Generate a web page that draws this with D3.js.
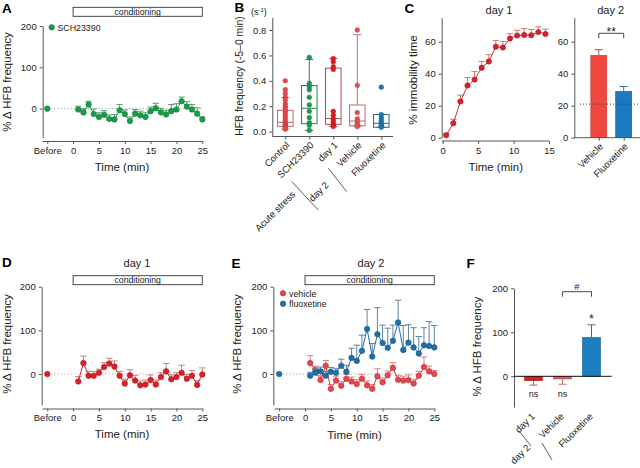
<!DOCTYPE html>
<html><head><meta charset="utf-8">
<script src="https://cdn.jsdelivr.net/npm/d3@7"></script>
<style>
body{margin:0;background:#fff;}
svg{display:block;font-family:"Liberation Sans",Arial,sans-serif;}
</style></head><body>
<svg id="chart" width="640" height="468"></svg>
<script>
// ---------------- DATA ----------------
const minutes = d3.range(1, 26);
const beforeTime = -5;
const beforeValue = 0;
const timeTicks = [-5, 0, 5, 10, 15, 20, 25];
const hfbTicks = [0, 100, 200];

// Panel A: SCH23390
const aSCH = [-2,-9,10,-13,-20,-15,-25,-26,-4,-13,-30,-12,-16,-20,-6,1,-9,-14,-6,-2,18,5,-2,-12,-26];
const aSCHErr = [8,9,8,12,10,10,10,12,14,10,10,10,10,10,10,12,10,10,16,14,10,12,12,14,6];

// Panel D: day 1
const dDay1 = [-17,25,-4,-4,3,16,24,17,-4,-22,-3,-15,-26,-24,-14,-24,-7,6,-12,-7,3,-11,-4,-25,-1];
const dDay1Err = [11,16,10,10,8,10,12,13,10,10,13,12,10,10,12,10,10,18,10,10,17,10,12,10,15];

// Panel E: day 2
const eVehicle = [25,9,-14,19,-34,-15,-27,-11,-17,-23,-11,-26,-34,-5,-19,-3,14,-13,-15,-14,-22,-4,16,6,0];
const eVehicleErr = [17,9,10,12,10,10,10,10,10,10,10,10,10,17,10,10,12,10,10,12,10,10,23,12,8];
const eFluox = [-4,3,6,-4,5,3,19,5,37,30,53,103,40,91,71,60,76,118,55,72,61,47,66,64,61];
const eFluoxErr = [8,10,10,10,10,10,15,15,22,36,36,45,30,61,41,45,36,51,56,41,45,39,40,56,50];

// Panel B: HFB frequency box plots
const bCategories = ["Control","SCH23390","day 1","Vehicle","Fluoxetine"];
const bControl = [0.40,0.33,0.30,0.27,0.25,0.22,0.20,0.18,0.16,0.14,0.12,0.10,0.08,0.07,0.06,0.05,0.04,0.03,0.02];
const bSCH = [0.585,0.38,0.355,0.33,0.27,0.21,0.16,0.11,0.07,0.05,0.01];
const bDay1 = [0.575,0.55,0.51,0.49,0.16,0.13,0.10,0.08,0.06,0.05,0.04];
const bVehicle = [0.80,0.365,0.15,0.10,0.08,0.06,0.05,0.04];
const bFluox = [0.35,0.135,0.11,0.09,0.07,0.055,0.045,0.035];
const bQ1 = [0.042,0.063,0.058,0.047,0.035];
const bMedian = [0.074,0.184,0.103,0.084,0.066];
const bQ3 = [0.168,0.363,0.50,0.21,0.135];
const bWhiskLo = [0.02,0.01,0.04,0.04,0.035];
const bWhiskHi = [0.268,0.568,0.575,0.763,0.135];
const bTicks = [0,0.2,0.4,0.6,0.8];

// Panel C
const cTime = [0.5,1.5,2.5,3.5,4.5,5.5,6.5,7.5,8.5,9.5,10.5,11.5,12.5,13.5,14.5];
const cImmob = [1.6,9,22.6,32.6,36.3,43.7,47.6,56.8,56.4,62,63.8,64.2,64,66,64.8];
const cImmobErr = [1,2.5,4,5,5,4,4.3,4,3.7,3,3.3,4,3.7,3.3,3];
const cTimeTicks = [0,5,10,15];
const cYTicks = [0,20,40,60];
const cBarGroups = ["Vehicle","Fluoxetine"];
const cBarValues = [51.5,29];
const cBarErr = [3.5,3];
const cReference = 21;

// Panel F
const fGroups = ["day 1","Vehicle","Fluoxetine"];
const fValues = [-10,-6,88];
const fErr = [10,12,29];

// ---------------- HELPERS ----------------
const svg = d3.select('#chart');
const AXC = '#555';

function styleAxis(a, fs) {
  a.attr('font-family', null).attr('font-size', null);
  a.select('.domain').attr('stroke', AXC).attr('stroke-width', 1);
  a.selectAll('.tick line').attr('stroke', AXC);
  a.selectAll('.tick text').attr('fill', '#222').attr('font-size', fs || 9.5);
  return a;
}
function addYAxis(x0, y, ticks, fmt) {
  return styleAxis(svg.append('g').attr('transform', `translate(${x0},0)`)
    .call(d3.axisLeft(y).tickValues(ticks).tickSize(3).tickSizeOuter(0).tickPadding(3).tickFormat(fmt || d3.format('d'))));
}
function addXAxis(y0, x, ticks, fmt) {
  return styleAxis(svg.append('g').attr('transform', `translate(0,${y0})`)
    .call(d3.axisBottom(x).tickValues(ticks).tickSize(3).tickSizeOuter(0).tickPadding(3).tickFormat(fmt || d3.format('d'))));
}
function txt(x, y, s, o) {
  o = o || {};
  const t = svg.append('text').attr('x', 0).attr('y', 0)
    .attr('transform', `translate(${x},${y})` + (o.rot ? ` rotate(${o.rot})` : ''))
    .attr('text-anchor', o.anchor || 'start')
    .attr('font-size', o.size || 9.5)
    .attr('font-weight', o.bold ? 'bold' : null)
    .attr('fill', o.fill || '#222')
    .text(s);
  return t;
}
function letter(x, y, s) { txt(x, y, s, {size: 13.5, bold: true, fill: '#000'}); }
function yLabel(x, y, s, size) { txt(x, y, s, {rot: -90, anchor: 'middle', size: size || 11.5}); }
function line(x1, y1, x2, y2, col, w, dash) {
  svg.append('line').attr('x1', x1).attr('y1', y1).attr('x2', x2).attr('y2', y2)
    .attr('stroke', col).attr('stroke-width', w || 1).attr('stroke-dasharray', dash || null);
}
function condBar(x, yTop) {
  svg.append('rect').attr('x', x(0)).attr('y', yTop).attr('width', x(25) - x(0)).attr('height', 9)
    .attr('fill', '#fff').attr('stroke', '#333').attr('stroke-width', 0.9);
  txt((x(0) + x(25)) / 2, yTop + 7.3, 'conditioning', {anchor: 'middle', size: 8.7});
}
function drawSeries(x, y, xs, vals, errs, c) {
  const g = svg.append('g');
  g.append('g').attr('stroke', c.err).attr('stroke-width', 1).attr('fill', 'none')
    .selectAll('path').data(vals).join('path')
    .attr('d', (v, i) => {
      const px = x(xs[i]), p0 = y(v), p1 = y(v + errs[i]);
      return `M${px},${p0}V${p1}M${px - 3.2},${p1}H${px + 3.2}`;
    });
  g.append('path').datum(vals).attr('fill', 'none').attr('stroke', c.line).attr('stroke-width', 1)
    .attr('d', d3.line().x((v, i) => x(xs[i])).y(v => y(v)));
  g.append('g').selectAll('circle').data(vals).join('circle')
    .attr('cx', (v, i) => x(xs[i])).attr('cy', v => y(v)).attr('r', c.r || 2.8)
    .attr('fill', c.dot).attr('stroke', c.stroke).attr('stroke-width', 0.5);
}
function beforeDot(x, y, col, stroke) {
  svg.append('circle').attr('cx', x(beforeTime)).attr('cy', y(beforeValue)).attr('r', 2.8)
    .attr('fill', col).attr('stroke', stroke).attr('stroke-width', 0.5);
}
const timeFmt = d => d === -5 ? 'Before' : d;

// ---------------- PANEL A ----------------
{
  const x = d3.scaleLinear().domain([-6, 25]).range([42.1, 202.3]);
  const y = d3.scaleLinear().domain([-70, 200]).range([137.6, 26]);
  letter(2, 12.5, 'A');
  condBar(x, 7.3);
  line(x(-5), y(0), x(25), y(0), '#8fa89a', 1, '1.2,2.2');
  addYAxis(42.7, y, hfbTicks);
  addXAxis(141, x, timeTicks, timeFmt);
  drawSeries(x, y, minutes, aSCH, aSCHErr, {dot: '#1c9a4b', stroke: '#137a38', line: '#1c9a4b', err: '#5a9e72'});
  beforeDot(x, y, '#1c9a4b', '#137a38');
  svg.append('circle').attr('cx', 51.7).attr('cy', 27.3).attr('r', 2.8).attr('fill', '#1c9a4b').attr('stroke', '#137a38').attr('stroke-width', 0.5);
  txt(57.5, 30.5, 'SCH23390', {size: 8.8});
  yLabel(11, 82, '% \u0394 HFB frequency');
  txt(122, 171, 'Time (min)', {anchor: 'middle', size: 11.5});
}

// ---------------- PANEL B ----------------
{
  const y = d3.scaleLinear().domain([-0.03, 0.9]).range([135.5, 17.3]);
  const x = d3.scalePoint().domain(bCategories).range([285.3, 381.3]);
  letter(234.5, 12, 'B');
  const sTxt = svg.append('text').attr('x', 251).attr('y', 15).attr('font-size', 9).attr('fill', '#222');
  sTxt.append('tspan').text('(s');
  sTxt.append('tspan').attr('font-size', 6).attr('dy', -3.5).text('-1');
  sTxt.append('tspan').attr('dy', 3.5).text(')');
  addYAxis(272.3, y, bTicks, d3.format('.1f'));
  const xa = addXAxis(136.5, x, bCategories, d => d);
  xa.select('.domain').attr('d', `M272.3,0H393`);
  xa.selectAll('.tick text').attr('text-anchor', 'end').attr('y', 0).attr('dy', '0.35em')
    .attr('transform', 'translate(2,7) rotate(-45)');
  const pts = [bControl, bSCH, bDay1, bVehicle, bFluox];
  const dotCol = ['#e8464b', '#1e9a50', '#dd1c24', '#e25050', '#1f74b0'];
  const dotStroke = ['#c23238', '#137a38', '#b51218', '#bb3a3a', '#155c8c'];
  const boxCol = ['#b86a6a', '#2a7d4f', '#a84a4a', '#b87070', '#2a6590'];
  const w = 15.5;
  bCategories.forEach((cat, i) => {
    const cx = x(cat);
    const g = svg.append('g').attr('stroke', boxCol[i]).attr('fill', 'none').attr('stroke-width', 1);
    g.append('path').attr('d', `M${cx},${y(bQ3[i])}V${y(bWhiskHi[i])}M${cx - 4},${y(bWhiskHi[i])}H${cx + 4}M${cx},${y(bQ1[i])}V${y(bWhiskLo[i])}M${cx - 4},${y(bWhiskLo[i])}H${cx + 4}`);
    g.append('rect').attr('x', cx - w / 2).attr('y', y(bQ3[i])).attr('width', w).attr('height', y(bQ1[i]) - y(bQ3[i]));
    g.append('line').attr('x1', cx - w / 2).attr('x2', cx + w / 2).attr('y1', y(bMedian[i])).attr('y2', y(bMedian[i]));
    svg.append('g').selectAll('circle').data(pts[i]).join('circle')
      .attr('cx', cx).attr('cy', d => y(d)).attr('r', 2.4)
      .attr('fill', dotCol[i]).attr('stroke', dotStroke[i]).attr('stroke-width', 0.4);
  });
  yLabel(243, 76, 'HFB frequency (-5\u20130 min)', 10.4);
  txt(277.5, 213.5, 'Acute stress', {rot: -45, anchor: 'middle', size: 9.5});
  txt(321, 194, 'day 2', {rot: -45, anchor: 'middle', size: 9.5});
  line(291.7, 181.7, 318.3, 210, '#333', 0.8);
  line(328.3, 168.3, 346.7, 191.7, '#333', 0.8);
}

// ---------------- PANEL C ----------------
{
  const y = d3.scaleLinear().domain([0, 75]).range([137.7, 17.7]);
  const x = d3.scaleLinear().domain([0, 15]).range([442.7, 549]);
  letter(404.5, 13.3, 'C');
  txt(499, 13.5, 'day 1', {anchor: 'middle', size: 11});
  addYAxis(441.7, y, cYTicks);
  const xa = addXAxis(141, x, cTimeTicks);
  xa.select('.domain').attr('d', 'M441.7,0H549');
  drawSeries(x, y, cTime, cImmob, cImmobErr, {dot: '#d9202a', stroke: '#a8141b', line: '#c8333a', err: '#c77a7a', r: 2.7});
  yLabel(416.5, 80, '% immobility time');
  txt(495.8, 170.5, 'Time (min)', {anchor: 'middle', size: 11.5});

  // right: day 2 bars
  const xb = d3.scalePoint().domain(cBarGroups).range([598.8, 623.7]);
  txt(610.7, 13.5, 'day 2', {anchor: 'middle', size: 11});
  addYAxis(574.3, y, cYTicks);
  const barCol = ['#f2473f', '#1a7ac0'];
  const barStroke = ['#b83a35', '#1f5c8a'];
  const errCol = ['#b84a4a', '#3f6e92'];
  cBarGroups.forEach((g, i) => {
    const cx = xb(g);
    svg.append('path').attr('stroke', errCol[i]).attr('fill', 'none')
      .attr('d', `M${cx},${y(cBarValues[i])}V${y(cBarValues[i] + cBarErr[i])}M${cx - 4},${y(cBarValues[i] + cBarErr[i])}H${cx + 4}`);
    svg.append('rect').attr('x', cx - 8).attr('y', y(cBarValues[i])).attr('width', 16)
      .attr('height', y(0) - y(cBarValues[i])).attr('fill', barCol[i]).attr('stroke', barStroke[i]).attr('stroke-width', 0.6);
  });
  line(580, y(cReference), 640, y(cReference), '#444', 1, '1,2');
  const xa2 = addXAxis(137.7, xb, cBarGroups, d => d);
  xa2.select('.domain').attr('d', 'M574.3,0H640');
  xa2.selectAll('.tick text').attr('text-anchor', 'end').attr('y', 0).attr('dy', '0.35em')
    .attr('transform', 'translate(2,7) rotate(-45)');
  svg.append('path').attr('fill', 'none').attr('stroke', '#333').attr('stroke-width', 0.9)
    .attr('d', `M${xb('Vehicle')},38.3V33.3H${xb('Fluoxetine')}V38.3`);
  txt(611.2, 36, '**', {anchor: 'middle', size: 12});
}

// ---------------- PANEL D ----------------
{
  const x = d3.scaleLinear().domain([-6, 25]).range([42.1, 202.3]);
  const y = d3.scaleLinear().domain([-71, 200]).range([405, 286.7]);
  letter(2, 267, 'D');
  txt(137, 266.5, 'day 1', {anchor: 'middle', size: 11});
  condBar(x, 275.7);
  line(x(-5), y(0), x(25), y(0), '#e8a0a0', 1, '1.2,2.2');
  addYAxis(41.7, y, hfbTicks);
  addXAxis(408.5, x, timeTicks, timeFmt);
  drawSeries(x, y, minutes, dDay1, dDay1Err, {dot: '#da1f27', stroke: '#a8141b', line: '#cf2a30', err: '#c98080'});
  beforeDot(x, y, '#da1f27', '#a8141b');
  yLabel(10.5, 344, '% \u0394 HFB frequency');
  txt(122, 438, 'Time (min)', {anchor: 'middle', size: 11.5});
}

// ---------------- PANEL E ----------------
{
  const x = d3.scaleLinear().domain([-6, 25]).range([274, 434.3]);
  const y = d3.scaleLinear().domain([-71, 200]).range([405, 286.7]);
  letter(231.5, 268, 'E');
  txt(371, 266.5, 'day 2', {anchor: 'middle', size: 11});
  condBar(x, 275.7);
  line(x(-5), y(0), x(25), y(0), '#aaa', 1, '1.2,2.2');
  addYAxis(273.3, y, hfbTicks);
  addXAxis(408.5, x, timeTicks, timeFmt);
  drawSeries(x, y, minutes, eVehicle, eVehicleErr, {dot: '#e3474d', stroke: '#b8262c', line: '#d9363c', err: '#d98282'});
  drawSeries(x, y, minutes, eFluox, eFluoxErr, {dot: '#1f6fa8', stroke: '#14507e', line: '#1f6fa8', err: '#5b84a3'});
  beforeDot(x, y, '#1f6fa8', '#14507e');
  svg.append('circle').attr('cx', 283).attr('cy', 293.3).attr('r', 2.8).attr('fill', '#e3474d').attr('stroke', '#b8262c').attr('stroke-width', 0.5);
  svg.append('circle').attr('cx', 283).attr('cy', 303.7).attr('r', 2.8).attr('fill', '#1f6fa8').attr('stroke', '#14507e').attr('stroke-width', 0.5);
  txt(289, 296.5, 'vehicle', {size: 8.8});
  txt(289, 307, 'fluoxetine', {size: 8.8});
  yLabel(241, 344, '% \u0394 HFB frequency');
  txt(354.5, 439, 'Time (min)', {anchor: 'middle', size: 11.5});
}

// ---------------- PANEL F ----------------
{
  const y = d3.scaleLinear().domain([-70, 200]).range([407.1, 288.3]);
  const x = d3.scalePoint().domain(fGroups).range([533.5, 591.5]);
  letter(466.5, 267.7, 'F');
  addYAxis(514, y, hfbTicks);
  const barCol = ['#dc1f26', '#e8585a', '#1b7dc2'];
  const barStroke = ['#a8181d', '#b84345', '#1a5d8f'];
  const errCol = ['#b06060', '#b87070', '#3f6e92'];
  fGroups.forEach((g, i) => {
    const cx = x(g), v = fValues[i];
    const e = v >= 0 ? v + fErr[i] : v - fErr[i];
    svg.append('path').attr('stroke', errCol[i]).attr('fill', 'none')
      .attr('d', `M${cx},${y(v)}V${y(e)}M${cx - 4},${y(e)}H${cx + 4}`);
    svg.append('rect').attr('x', cx - 9).attr('y', Math.min(y(v), y(0))).attr('width', 18)
      .attr('height', Math.abs(y(v) - y(0))).attr('fill', barCol[i]).attr('stroke', barStroke[i]).attr('stroke-width', 0.6);
  });
  line(514, y(0), 611.7, y(0), '#111', 1);
  txt(x('day 1'), 396.5, 'ns', {anchor: 'middle', size: 9});
  txt(x('Vehicle'), 396.5, 'ns', {anchor: 'middle', size: 9});
  txt(x('Fluoxetine'), 322.5, '*', {anchor: 'middle', size: 12.5});
  svg.append('path').attr('fill', 'none').attr('stroke', '#333').attr('stroke-width', 0.9)
    .attr('d', `M${x('Vehicle')},296.7V291.7H${x('Fluoxetine')}V296.7`);
  txt((x('Vehicle') + x('Fluoxetine')) / 2, 290, '#', {anchor: 'middle', size: 9.5});
  fGroups.forEach(g => txt(x(g) + 2, 417, g, {rot: -45, anchor: 'end', size: 9.5}));
  txt(522.5, 456.5, 'day 2', {rot: -45, anchor: 'middle', size: 9.5});
  line(519, 431, 531, 446, '#333', 0.8);
  line(542, 443, 552, 460, '#333', 0.8);
  yLabel(481, 346.7, '% \u0394 HFB frequency');
}
</script>
</body></html>
